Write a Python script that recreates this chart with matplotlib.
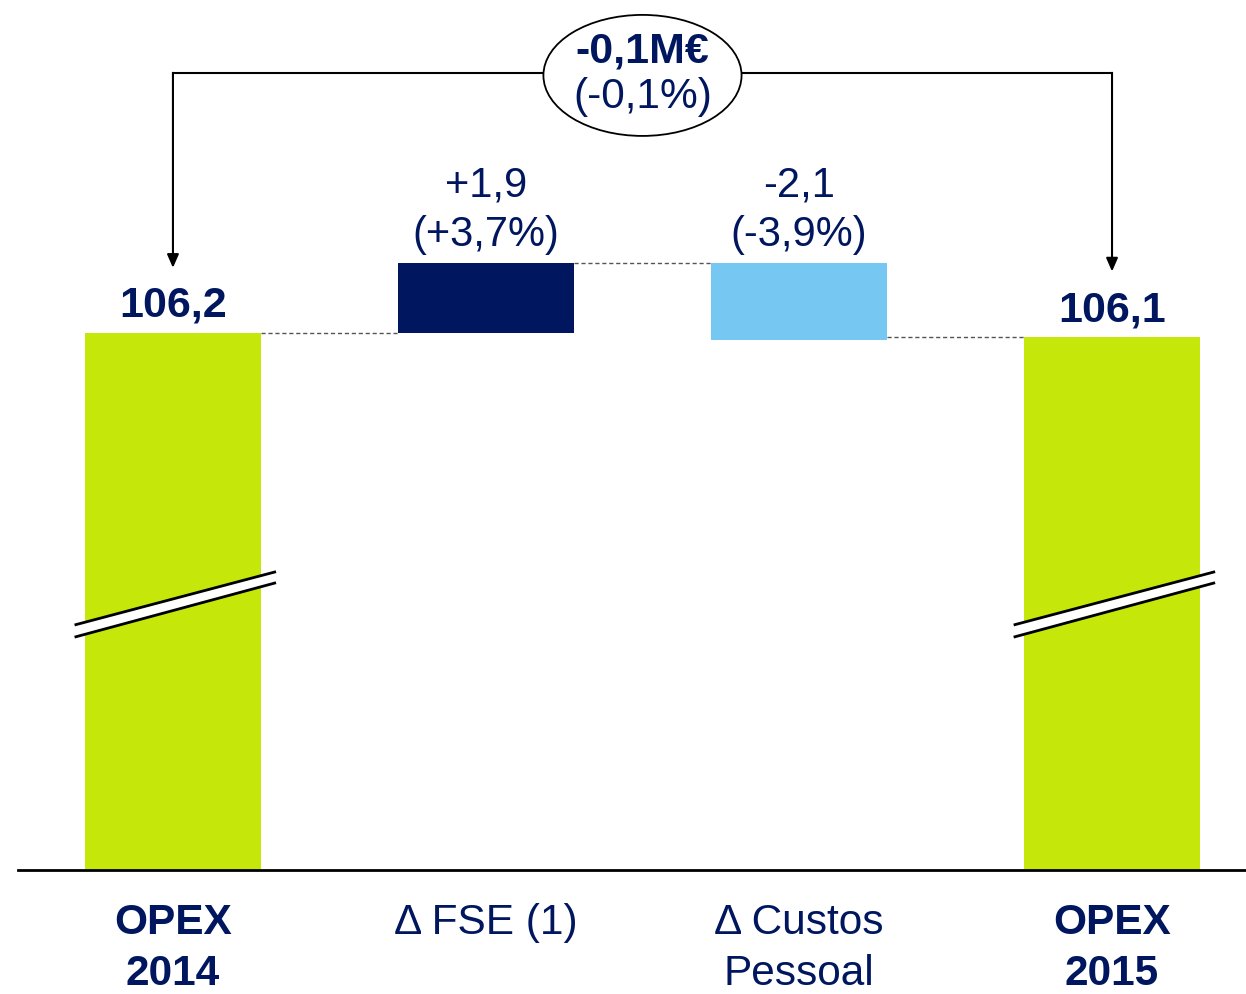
import matplotlib
matplotlib.use("Agg")
import matplotlib.pyplot as plt
from matplotlib.patches import Ellipse, Polygon

plt.rcParams['font.family'] = ['Liberation Sans', 'DejaVu Sans']

# dados (M€)
categories = ['OPEX\n2014', 'Δ FSE (1)', 'Δ Custos\nPessoal', 'OPEX\n2015']
cat_bold = [True, False, False, True]
start_value = 106.2
deltas = [1.9, -2.1]
delta_values = ['+1,9', '-2,1']
delta_pcts = ['(+3,7%)', '(-3,9%)']
end_value = 106.1
total_change = '-0,1M€'
total_pct = '(-0,1%)'

navy = '#00175F'
green = '#C5E70A'
light_blue = '#76C7F1'

fig = plt.figure(figsize=(12.46, 9.94), dpi=100)
ax = fig.add_axes([18 / 1246, 124 / 994, 1228 / 1246, 870 / 994])
ax.set_xlim(-0.495, 3.428)
ax.set_ylim(91.6, 115.25)
ax.axis('off')

w = 0.56
x = [0, 1, 2, 3]

# barras totais
ax.bar(x[0], start_value, width=w, color=green, zorder=2)
ax.bar(x[3], end_value, width=w, color=green, zorder=2)

# barras de variação
level = start_value
for i, d in enumerate(deltas):
    col = navy if d > 0 else light_blue
    ax.bar(x[i + 1], d, bottom=level, width=w, color=col, zorder=2)
    level += d

# linhas tracejadas entre barras
tops = [start_value, start_value + deltas[0], end_value]
for i in range(3):
    ax.plot([x[i] + w / 2, x[i + 1] - w / 2], [tops[i], tops[i]],
            ls=(0, (3, 2)), color='#555555', lw=1, zorder=1)

# rótulos
ax.text(x[0], start_value + 0.74, '106,2', ha='center', va='center',
        fontsize=31, fontweight='bold', color=navy)
ax.text(x[3], end_value + 0.72, '106,1', ha='center', va='center',
        fontsize=31, fontweight='bold', color=navy)
top_fse = start_value + deltas[0]
for i in range(len(deltas)):
    ax.text(x[i + 1], top_fse + 2.1, delta_values[i], ha='center', va='center',
            fontsize=30, color=navy)
    ax.text(x[i + 1], top_fse + 0.76, delta_pcts[i], ha='center', va='center',
            fontsize=30, color=navy)

# categorias
for xi, c, b in zip(x, categories, cat_bold):
    ax.text(xi, -0.038, c, transform=ax.get_xaxis_transform(), ha='center', va='top',
            fontsize=30.5, fontweight='bold' if b else 'normal', color=navy,
            linespacing=1.35, clip_on=False)

# eixo base
ax.axhline(91.6, color='black', lw=2, zorder=3, clip_on=False)

# marcas de quebra
for xi in [x[0], x[3]]:
    lo = [(xi - 0.31, 98.27), (xi + 0.325, 99.70)]
    hi = [(xi - 0.31, 97.94), (xi + 0.325, 99.40)]
    ax.add_patch(Polygon(lo + hi[::-1], closed=True, facecolor='white',
                         edgecolor='none', zorder=4))
    for seg in (lo, hi):
        ax.plot([p[0] for p in seg], [p[1] for p in seg], color='black', lw=2, zorder=5)

# chaveta com setas
yb = 113.27
ax.plot([x[0], 1.5 - 0.317], [yb, yb], color='black', lw=1.5)
ax.plot([1.5 + 0.317, x[3]], [yb, yb], color='black', lw=1.5)
for xi, v in [(x[0], start_value), (x[3], end_value)]:
    ax.annotate('', xy=(xi, v + 1.77), xytext=(xi, yb),
                arrowprops=dict(arrowstyle='-|>,head_length=0.8,head_width=0.35',
                                color='black', lw=1.5, shrinkA=0, shrinkB=0))
ax.add_patch(Ellipse((1.5, 113.2), 0.633, 3.29, facecolor='white',
                     edgecolor='black', lw=1.3, zorder=3))
ax.text(1.5, 113.2 + 0.65, total_change, ha='center', va='center',
        fontsize=31, fontweight='bold', color=navy, zorder=4)
ax.text(1.5, 113.2 - 0.6, total_pct, ha='center', va='center',
        fontsize=30.5, color=navy, zorder=4)

fig.savefig('out.png', dpi=100)
